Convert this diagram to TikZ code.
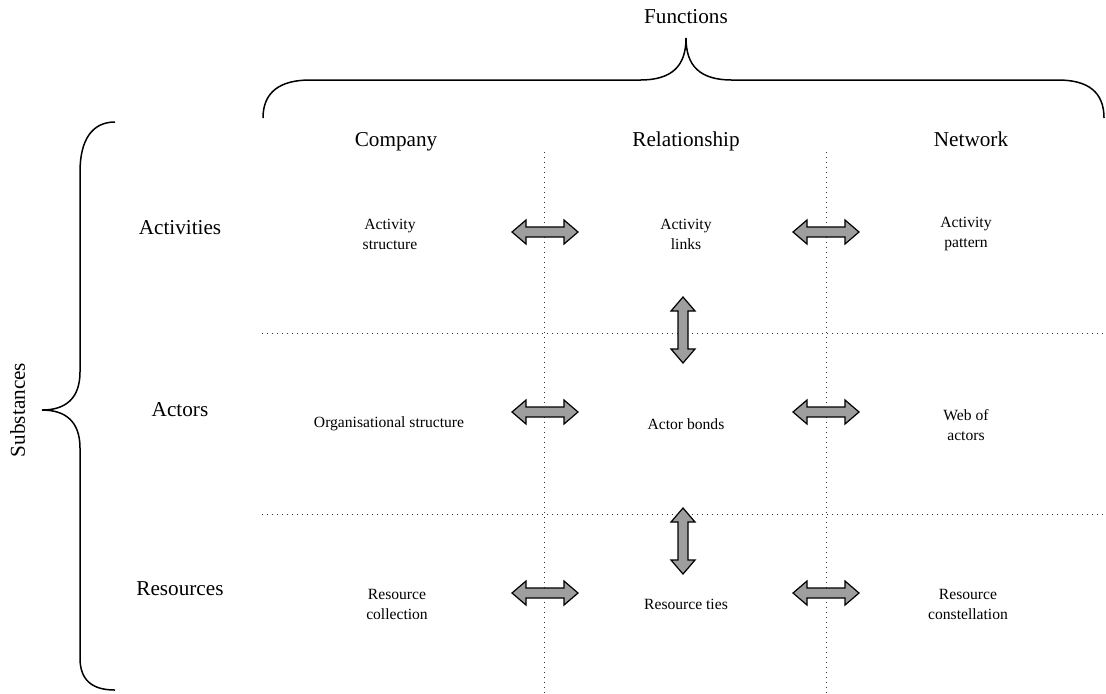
\documentclass[tikz,border=0pt]{standalone}
\usepackage{fontspec}
\setmainfont{Liberation Serif}
\begin{document}
\begin{tikzpicture}[x=0.5pt,y=-0.5pt,
  head/.style={font=\fontsize{10.6}{13}\selectfont, inner sep=0pt, text height=7.2pt, text depth=2.2pt},
  cell/.style={font=\fontsize{7.8}{10}\selectfont, align=center, inner sep=0pt},
  brace/.style={line width=0.75pt},
  grid/.style={dotted, line width=0.5pt, black!80},
  arrowbody/.style={draw=black, fill=black!38, line width=0.6pt, line join=miter},
  dblarrow/.pic={\path[arrowbody] (-33,0) -- (-19,12) -- (-19,5) -- (19,5) -- (19,12) -- (33,0) -- (19,-12) -- (19,-5) -- (-19,-5) -- (-19,-12) -- cycle;}]
\useasboundingbox (0,0) rectangle (1106,693);

% braces
\draw[brace] (263,118) .. controls (263,92) and (280,80) .. (310,80) -- (640,80)
  .. controls (672,80) and (686,66) .. (686,38)
  .. controls (686,66) and (700,80) .. (732,80) -- (1058,80)
  .. controls (1088,80) and (1104,92) .. (1104,118);
\draw[brace] (115,122) .. controls (92,122) and (80,140) .. (80,172) -- (80,372)
  .. controls (80,398) and (66,410) .. (42,410)
  .. controls (66,410) and (80,422) .. (80,448) -- (80,658)
  .. controls (80,680) and (92,690) .. (115,690);

\node[head] (fun) at (686,18) {Functions};
\node[head, rotate=90] (sub) at (20,410) {Substances};

% headers
\node[head] (comp) at (396,141) {Company};
\node[head] (rel) at (686,141) {Relationship};
\node[head] (net) at (971,141) {Network};
\node[head] (act) at (180,229) {Activities};
\node[head] (acto) at (180,411) {Actors};
\node[head] (res) at (180,590) {Resources};

% grid
\draw[grid] (544,152) -- (544,693);
\draw[grid] (826,152) -- (826,693);
\draw[grid] (262,333) -- (1106,333);
\draw[grid] (262,514) -- (1106,514);

% cells
\node[cell] (c11) at (390,234) {Activity\\structure};
\node[cell] (c12) at (686,234) {Activity\\links};
\node[cell] (c13) at (966,234) {Activity\\pattern};
\node[cell] (c21) at (389,424) {Organisational structure};
\node[cell] (c22) at (686,424) {Actor bonds};
\node[cell] (c23) at (966,425) {Web of\\actors};
\node[cell] (c31) at (397,604) {Resource\\collection};
\node[cell] (c32) at (686,604) {Resource ties};
\node[cell] (c33) at (968,604) {Resource\\constellation};

% arrows
\pic at (545,232) {dblarrow};
\pic at (826,232) {dblarrow};
\pic at (545,412) {dblarrow};
\pic at (826,412) {dblarrow};
\pic at (545,593) {dblarrow};
\pic at (826,593) {dblarrow};
\pic[rotate=90] at (683,330) {dblarrow};
\pic[rotate=90] at (683,541) {dblarrow};
\end{tikzpicture}
\end{document}
